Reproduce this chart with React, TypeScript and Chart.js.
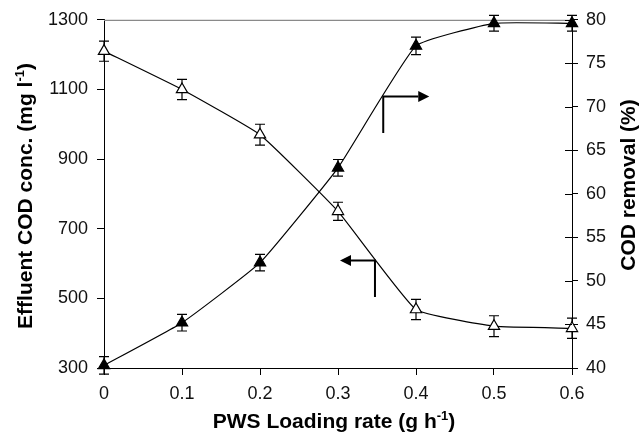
import React, { useEffect, useRef } from 'react';
import { Chart, registerables } from 'chart.js';

Chart.register(...registerables);

// ---- data ----
const loadingRates = [0, 0.1, 0.2, 0.3, 0.4, 0.5, 0.6];
const effluentCOD = [1210, 1100, 970, 750, 468, 420, 414];
const effluentErr = [29, 29, 30, 26, 29, 30, 29];
const codRemoval = [40.3, 45.2, 52.1, 63.0, 77.0, 79.6, 79.6];
const removalErr = [1.0, 0.95, 0.95, 0.95, 1.0, 0.9, 0.9];

const xTickLabels = ['0', '0.1', '0.2', '0.3', '0.4', '0.5', '0.6'];
const leftTickLabels = ['300', '500', '700', '900', '1100', '1300'];
const rightTickLabels = ['40', '45', '50', '55', '60', '65', '70', '75', '80'];
const leftAxisRange = [300, 1300, 200];
const rightAxisRange = [40, 80, 5];

// arrow annotations in data coordinates
const arrowRemoval = { x: 0.358, yFrom: 67.0, yTo: 71.2, tipX: 0.417, axis: 'yR' };
const arrowEffluent = { x: 0.3474, yFrom: 503.7, yTo: 608.6, tipX: 0.3026, axis: 'yL' };

const FONT = "'Liberation Sans', Arial, Helvetica, sans-serif";

function drawTitle(
  ctx: CanvasRenderingContext2D,
  main: string,
  sup: string,
  tail: string,
  cx: number,
  cy: number,
  rotate: boolean
) {
  const big = `bold 21px ${FONT}`;
  const small = `bold 13px ${FONT}`;
  ctx.save();
  ctx.fillStyle = '#000';
  ctx.textBaseline = 'alphabetic';
  ctx.textAlign = 'left';
  ctx.font = big;
  const w1 = ctx.measureText(main).width;
  const w3 = ctx.measureText(tail).width;
  ctx.font = small;
  const w2 = sup ? ctx.measureText(sup).width : 0;
  const total = w1 + w2 + w3;
  ctx.translate(cx, cy);
  if (rotate) ctx.rotate(-Math.PI / 2);
  let x = -total / 2;
  ctx.font = big;
  ctx.fillText(main, x, 0);
  x += w1;
  if (sup) {
    ctx.font = small;
    ctx.fillText(sup, x, -8);
    x += w2;
  }
  ctx.font = big;
  ctx.fillText(tail, x, 0);
  ctx.restore();
}

const customPlugin = {
  id: 'customDecor',
  beforeDatasetsDraw(chart: any) {
    const { ctx, scales } = chart;
    const xs = scales.x;
    const sets = [
      { axis: scales.yL, vals: effluentCOD, errs: effluentErr },
      { axis: scales.yR, vals: codRemoval, errs: removalErr },
    ];
    ctx.save();
    ctx.strokeStyle = '#000';
    ctx.lineWidth = 1.2;
    sets.forEach((s) => {
      loadingRates.forEach((xv, i) => {
        const px = xs.getPixelForValue(xv);
        const yt = s.axis.getPixelForValue(s.vals[i] + s.errs[i]);
        const yb = s.axis.getPixelForValue(s.vals[i] - s.errs[i]);
        ctx.beginPath();
        ctx.moveTo(px, yt);
        ctx.lineTo(px, yb);
        ctx.moveTo(px - 5, yt);
        ctx.lineTo(px + 5, yt);
        ctx.moveTo(px - 5, yb);
        ctx.lineTo(px + 5, yb);
        ctx.stroke();
      });
    });
    ctx.restore();
  },
  afterDatasetsDraw(chart: any) {
    const { ctx, scales } = chart;
    const xs = scales.x;
    ctx.save();
    ctx.strokeStyle = '#000';
    ctx.fillStyle = '#000';
    ctx.lineWidth = 2;
    [arrowRemoval, arrowEffluent].forEach((a) => {
      const ys = scales[a.axis];
      const x0 = xs.getPixelForValue(a.x);
      const y0 = ys.getPixelForValue(a.yFrom);
      const y1 = ys.getPixelForValue(a.yTo);
      const tx = xs.getPixelForValue(a.tipX);
      const dir = tx > x0 ? 1 : -1;
      const headLen = 11;
      ctx.beginPath();
      ctx.moveTo(x0, y0);
      ctx.lineTo(x0, y1);
      ctx.lineTo(tx - dir * headLen, y1);
      ctx.stroke();
      ctx.beginPath();
      ctx.moveTo(tx, y1);
      ctx.lineTo(tx - dir * headLen, y1 - 5.5);
      ctx.lineTo(tx - dir * headLen, y1 + 5.5);
      ctx.closePath();
      ctx.fill();
    });
    ctx.restore();
  },
  afterDraw(chart: any) {
    const { ctx, chartArea, scales } = chart;
    ctx.save();
    ctx.strokeStyle = '#000';
    ctx.lineWidth = 1;
    scales.yR.ticks.forEach((t: any) => {
      const y = Math.round(scales.yR.getPixelForValue(t.value)) + 0.5;
      ctx.beginPath();
      ctx.moveTo(chartArea.right - 7, y);
      ctx.lineTo(chartArea.right, y);
      ctx.stroke();
    });
    ctx.restore();
    drawTitle(ctx, 'Effluent COD conc. (mg l', '-1', ')', 32, 196, true);
    drawTitle(ctx, 'COD removal (%)', '', '', 635, 185, true);
    drawTitle(ctx, 'PWS Loading rate (g h', '-1', ')', 334, 428, false);
  },
  beforeDatasetsDraw2: undefined,
};

const frameLine = {
  id: 'frameLine',
  beforeDatasetsDraw(chart: any) {
    const { ctx, chartArea } = chart;
    ctx.save();
    ctx.strokeStyle = '#8a8a8a';
    ctx.lineWidth = 1.2;
    ctx.beginPath();
    ctx.moveTo(chartArea.left, chartArea.top + 0.5);
    ctx.lineTo(chartArea.right, chartArea.top + 0.5);
    ctx.stroke();
    ctx.restore();
  },
};

export default function App() {
  const canvasRef = useRef<HTMLCanvasElement | null>(null);

  useEffect(() => {
    if (!canvasRef.current) return;
    const tickFont = { family: FONT, size: 18 };
    const chart = new Chart(canvasRef.current, {
      type: 'line',
      data: {
        datasets: [
          {
            label: 'Effluent COD conc.',
            data: loadingRates.map((x, i) => ({ x, y: effluentCOD[i] })),
            yAxisID: 'yL',
            borderColor: '#000',
            borderWidth: 1.2,
            pointStyle: 'triangle',
            pointRadius: 6.5,
            pointBackgroundColor: '#fff',
            pointBorderColor: '#000',
            pointBorderWidth: 1.2,
            tension: 0.12,
            fill: false,
            clip: false,
          },
          {
            label: 'COD removal',
            data: loadingRates.map((x, i) => ({ x, y: codRemoval[i] })),
            yAxisID: 'yR',
            borderColor: '#000',
            borderWidth: 1.2,
            pointStyle: 'triangle',
            pointRadius: 6.5,
            pointBackgroundColor: '#000',
            pointBorderColor: '#000',
            pointBorderWidth: 1.2,
            tension: 0.12,
            fill: false,
            clip: false,
          },
        ],
      },
      options: {
        animation: false,
        responsive: false,
        maintainAspectRatio: false,
        devicePixelRatio: 1,
        layout: { padding: { top: 18, left: 0, right: 0, bottom: 0 } },
        plugins: {
          legend: { display: false },
          tooltip: { enabled: false },
        },
        scales: {
          x: {
            type: 'linear',
            min: 0,
            max: 0.6,
            ticks: {
              stepSize: 0.1,
              font: tickFont,
              color: '#111',
              padding: 8,
              maxRotation: 0,
              callback: (_v: any, i: number) => xTickLabels[i],
            },
            grid: { drawOnChartArea: false, tickLength: 7, tickColor: '#000', color: '#000' },
            border: { color: '#000', width: 1 },
            afterFit: (s: any) => { s.height = 69; },
          },
          yL: {
            type: 'linear',
            position: 'left',
            min: leftAxisRange[0],
            max: leftAxisRange[1],
            ticks: {
              stepSize: leftAxisRange[2],
              font: tickFont,
              color: '#111',
              padding: 9,
              callback: (_v: any, i: number) => leftTickLabels[i],
            },
            grid: { drawOnChartArea: false, tickLength: 7, tickColor: '#000', color: '#000' },
            border: { color: '#000', width: 1 },
            afterFit: (s: any) => { s.width = 104; },
          },
          yR: {
            type: 'linear',
            position: 'right',
            min: rightAxisRange[0],
            max: rightAxisRange[1],
            ticks: {
              stepSize: rightAxisRange[2],
              font: tickFont,
              color: '#111',
              padding: 8,
              callback: (_v: any, i: number) => rightTickLabels[i],
            },
            grid: { drawOnChartArea: false, tickLength: 6, tickColor: '#000', color: '#000' },
            border: { color: '#000', width: 1 },
            afterFit: (s: any) => { s.width = 67; },
          },
        },
      },
      plugins: [frameLine, customPlugin],
    } as any);
    return () => chart.destroy();
  }, []);

  return (
    <div style={{ position: 'fixed', left: 0, top: 0, width: 639, height: 437, background: '#fff' }}>
      <canvas ref={canvasRef} width={639} height={437} style={{ display: 'block', width: 639, height: 437 }} />
    </div>
  );
}
